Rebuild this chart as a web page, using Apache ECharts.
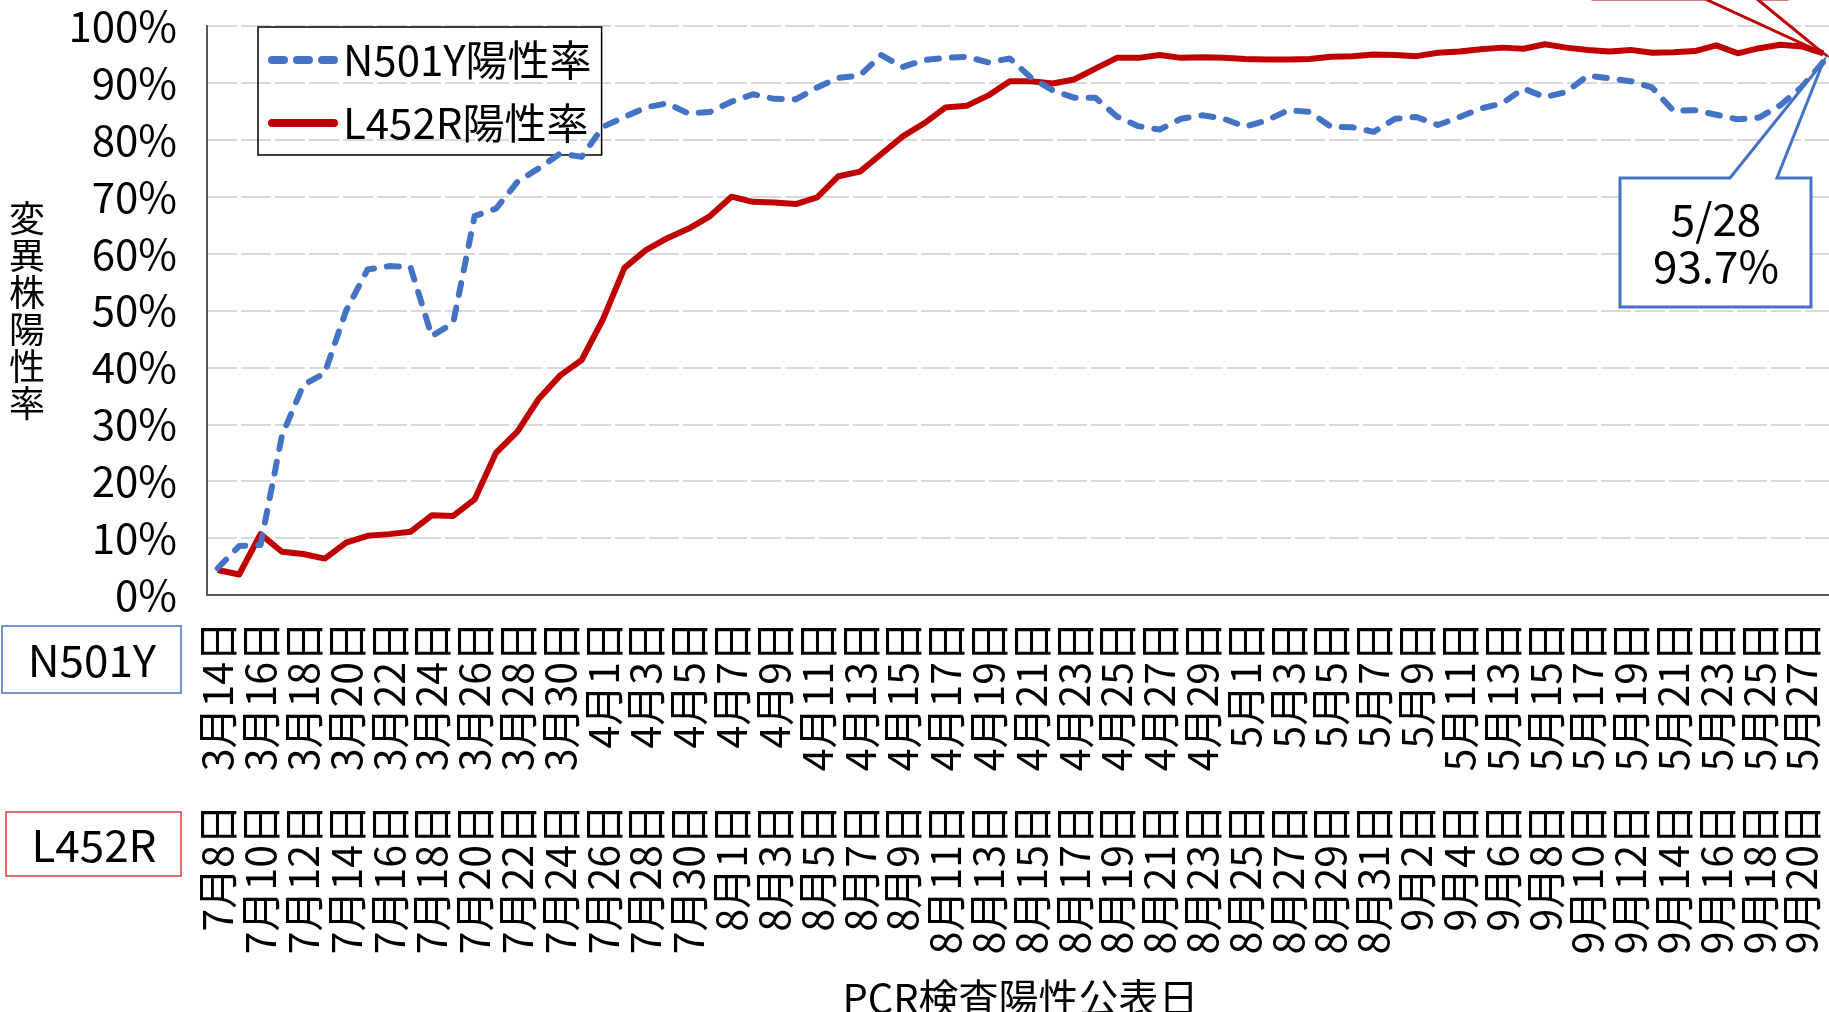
<!DOCTYPE html>
<html>
<head>
<meta charset="utf-8">
<script src="https://cdn.jsdelivr.net/npm/echarts@6/dist/echarts.min.js"></script>
<style>
html, body { margin: 0; padding: 0; background: #fff; }
#main { width: 1829px; height: 1012px; }
</style>
</head>
<body>
<div id="main"></div>
<script>
// 日付ラベル
function days(m, from, to) {
    var a = [];
    for (var d = from; d <= to; d++) a.push(m + '月' + d + '日');
    return a;
}
var datesN501Y = days(3, 14, 31).concat(days(4, 1, 30), days(5, 1, 28));
var datesL452R = days(7, 8, 31).concat(days(8, 1, 31), days(9, 1, 21));

// 陽性率(%)
var rateN501Y = [
    4.7, 8.6, 8.8, 28.0, 36.9, 39.0, 50.0, 57.2, 57.8, 57.7,
    45.5, 47.8, 66.6, 67.9, 72.6, 75.0, 77.6, 77.0, 82.3, 84.0,
    85.7, 86.4, 84.6, 84.9, 86.7, 88.0, 87.2, 87.1, 89.2, 90.9,
    91.3, 94.9, 92.8, 94.0, 94.4, 94.6, 93.6, 94.3, 90.9, 88.7,
    87.4, 87.4, 84.1, 82.4, 81.8, 83.7, 84.3, 83.7, 82.3, 83.4,
    85.2, 84.9, 82.3, 82.2, 81.4, 83.7, 84.0, 82.6, 84.0, 85.5,
    86.4, 89.0, 87.5, 88.4, 91.3, 90.8, 90.3, 89.2, 85.1, 85.2,
    84.4, 83.6, 83.9, 86.1, 89.3, 93.7
];
var rateL452R = [
    4.4, 3.6, 10.7, 7.6, 7.2, 6.4, 9.2, 10.4, 10.7, 11.1,
    14.0, 13.9, 16.8, 25.0, 28.7, 34.5, 38.6, 41.3, 48.5, 57.5,
    60.6, 62.7, 64.4, 66.6, 70.0, 69.1, 69.0, 68.7, 69.9, 73.6,
    74.4, 77.5, 80.6, 82.9, 85.7, 86.0, 87.8, 90.3, 90.3, 89.9,
    90.6, 92.5, 94.4, 94.4, 94.9, 94.4, 94.5, 94.4, 94.2, 94.1,
    94.1, 94.2, 94.6, 94.7, 95.0, 94.9, 94.7, 95.3, 95.5, 95.9,
    96.2, 96.0, 96.8, 96.2, 95.8, 95.5, 95.8, 95.3, 95.4, 95.6,
    96.6, 95.2, 96.1, 96.7, 96.4, 95.2
];

var FONT = '"Noto Sans CJK JP", "Noto Sans", sans-serif';
var BLUE = '#4472C4', RED = '#C00000';

var chart = echarts.init(document.getElementById('main'));

var labelStyle = {
    interval: 1,
    rotate: 90,
    fontSize: 41,
    fontFamily: FONT,
    color: '#000',
    margin: 26
};

chart.setOption({
    animation: false,
    textStyle: { fontFamily: FONT },
    grid: { left: 207, right: -5, top: 26, bottom: 417, outerBoundsMode: 'none' },
    legend: {
        orient: 'vertical',
        left: 258, top: 27,
        padding: [10, 10, 9, 10],
        borderColor: '#000', borderWidth: 1.5,
        itemWidth: 70, itemHeight: 8, itemGap: 17,
        textStyle: { fontSize: 42, lineHeight: 46, color: '#000', fontFamily: FONT },
        z: 1,
        data: [
            { name: 'N501Y陽性率', icon: 'path://M4,0h12a4,4 0 0 1 0,8h-12a4,4 0 0 1 0,-8zM29,0h12a4,4 0 0 1 0,8h-12a4,4 0 0 1 0,-8zM54,0h12a4,4 0 0 1 0,8h-12a4,4 0 0 1 0,-8z' },
            { name: 'L452R陽性率', icon: 'path://M4,0h62a4,4 0 0 1 0,8h-62a4,4 0 0 1 0,-8z' }
        ]
    },
    xAxis: [{
        type: 'category',
        data: datesN501Y,
        axisLine: { lineStyle: { color: '#595959', width: 2 } },
        axisTick: { show: false },
        axisLabel: labelStyle
    }, {
        type: 'category',
        position: 'bottom',
        offset: 183,
        data: datesL452R,
        axisLine: { show: false },
        axisTick: { show: false },
        axisLabel: labelStyle,
        name: 'PCR検査陽性公表日',
        nameLocation: 'middle',
        nameGap: 200,
        nameTextStyle: { fontSize: 40, color: '#000', fontFamily: FONT }
    }],
    yAxis: {
        type: 'value',
        min: 0, max: 100, interval: 10,
        name: '変\n異\n株\n陽\n性\n率',
        nameLocation: 'middle',
        nameRotate: 0,
        nameGap: 162,
        nameTextStyle: { fontSize: 36, lineHeight: 37, color: '#000', fontFamily: FONT },
        axisLine: { show: true, lineStyle: { color: '#595959', width: 2 } },
        axisTick: { show: false },
        axisLabel: { formatter: '{value}%', fontSize: 42, color: '#000', margin: 30, fontFamily: FONT },
        splitLine: { lineStyle: { color: '#D9D9D9', width: 2, type: [30, 4] } }
    },
    series: [{
        name: 'N501Y陽性率',
        type: 'line',
        xAxisIndex: 0,
        data: rateN501Y,
        symbol: 'none',
        itemStyle: { color: BLUE },
        lineStyle: { color: BLUE, width: 6, type: [12, 13], cap: 'round', join: 'round' },
        z: 3
    }, {
        name: 'L452R陽性率',
        type: 'line',
        xAxisIndex: 1,
        data: rateL452R,
        symbol: 'none',
        itemStyle: { color: RED },
        lineStyle: { color: RED, width: 6, join: 'round' },
        z: 2
    }]
});

// 吹き出し (先端は最終データ点)
var last = rateN501Y.length - 1;
var pb = chart.convertToPixel({ xAxisIndex: 0, yAxisIndex: 0 }, [last, rateN501Y[last]]);
var pr = chart.convertToPixel({ xAxisIndex: 1, yAxisIndex: 0 }, [last, rateL452R[last]]);

chart.setOption({
    graphic: [{
        type: 'polygon',
        shape: { points: [[1620, 178], [1730, 178], pb, [1777, 178], [1811, 178], [1811, 307], [1620, 307]] },
        style: { fill: '#fff', stroke: BLUE, lineWidth: 3 },
        z: 10
    }, {
        type: 'text',
        x: 1716, y: 243,
        style: {
            text: '5/28\n93.7%',
            fontSize: 44, lineHeight: 47, fontFamily: FONT,
            fill: '#000', align: 'center', verticalAlign: 'middle'
        },
        z: 11
    }, {
        type: 'polygon',
        shape: { points: [[1593, -150], [1787, -150], [1787, -1], [1757, -1], pr, [1705, -1], [1593, -1]] },
        style: { fill: '#fff', stroke: RED, lineWidth: 3 },
        z: 10
    }, {
        // 系列名の枠
        type: 'group',
        children: [{
            type: 'rect',
            shape: { x: 2, y: 626, width: 179, height: 67 },
            style: { fill: '#fff', stroke: BLUE, lineWidth: 1.5 }
        }, {
            type: 'text',
            x: 92, y: 660,
            style: { text: 'N501Y', fontSize: 44, fontFamily: FONT, fill: '#000', align: 'center', verticalAlign: 'middle' }
        }, {
            type: 'rect',
            shape: { x: 6, y: 812, width: 175, height: 64 },
            style: { fill: '#fff', stroke: '#E03C3C', lineWidth: 1.5 }
        }, {
            type: 'text',
            x: 94, y: 845,
            style: { text: 'L452R', fontSize: 44, fontFamily: FONT, fill: '#000', align: 'center', verticalAlign: 'middle' }
        }]
    }]
});
</script>
</body>
</html>
